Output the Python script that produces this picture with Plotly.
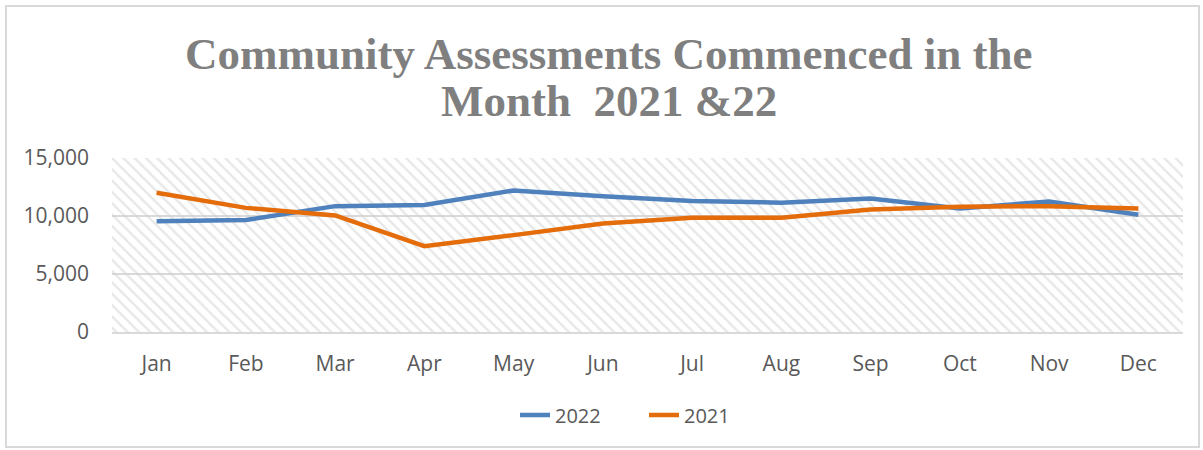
import plotly.graph_objects as go

months = ["Jan", "Feb", "Mar", "Apr", "May", "Jun", "Jul", "Aug", "Sep", "Oct", "Nov", "Dec"]
values_2022 = [9550, 9650, 10850, 10950, 12200, 11700, 11300, 11150, 11500, 10650, 11250, 10100]
values_2021 = [12000, 10700, 10050, 7400, 8350, 9350, 9850, 9850, 10550, 10800, 10850, 10650]
y_ticks = [0, 5000, 10000, 15000]
y_max = 15000
title_lines = ["Community Assessments Commenced in the", "Month  2021 &22"]

W, H = 1203, 450
L, R, T, B = 112, 20, 158, 118
pw, ph = W - L - R, H - T - B

fig = go.Figure()

# hatched plot-area background
fig.add_trace(go.Bar(
    x=months, y=[y_max] * len(months), width=1,
    marker=dict(color="rgba(0,0,0,0)", line=dict(width=0),
                pattern=dict(shape="\\", fgcolor="#d0d0d0", bgcolor="rgba(0,0,0,0)",
                             size=8, solidity=0.3)),
    showlegend=False, hoverinfo="skip"))

fig.add_trace(go.Scatter(x=months, y=values_2022, mode="lines", name="2022",
                         line=dict(color="#4F81BD", width=4.5)))
fig.add_trace(go.Scatter(x=months, y=values_2021, mode="lines", name="2021",
                         line=dict(color="#E46C0A", width=4.5)))

fig.update_layout(
    width=W, height=H,
    margin=dict(l=L, r=R, t=T, b=B),
    paper_bgcolor="white", plot_bgcolor="white",
    font=dict(family="Open Sans", color="#595959", size=21),
    legend=dict(orientation="h", x=(515 - L) / pw, xanchor="left", y=-(415 - 332) / ph, yanchor="middle",
                font=dict(size=20, color="#595959"), entrywidth=84, entrywidthmode="pixels"),
    bargap=0,
)

title_font = dict(family="Liberation Serif", size=45, color="#7F7F7F", weight="bold")
for text, ypx in zip(title_lines, [54, 101]):
    fig.add_annotation(text=text, xref="paper", yref="paper",
                       x=(609 - L) / pw, y=1 + (T - ypx) / ph,
                       xanchor="center", yanchor="middle", showarrow=False, font=title_font)

fig.update_xaxes(range=[-0.5, 11.5], showgrid=False, showline=True, linecolor="#d9d9d9",
                 linewidth=2, ticks="", ticklabelstandoff=12, fixedrange=True)
fig.update_yaxes(range=[0, y_max], tickvals=y_ticks, tickformat=",", showgrid=True,
                 gridcolor="#d9d9d9", gridwidth=1.5, zeroline=False, showline=False,
                 ticks="", ticklabelstandoff=22, fixedrange=True)

# outer chart border
fig.add_shape(type="rect", xref="paper", yref="paper",
              x0=(6 - L) / pw, x1=(W - 4 - L) / pw,
              y0=-(H - 3 - (T + ph)) / ph, y1=1 + (T - 6) / ph,
              line=dict(color="#d9d9d9", width=2), fillcolor="rgba(0,0,0,0)", layer="below")

fig.write_html("out.html", config={"displayModeBar": False},
               post_script="document.body.style.margin='0px';")
